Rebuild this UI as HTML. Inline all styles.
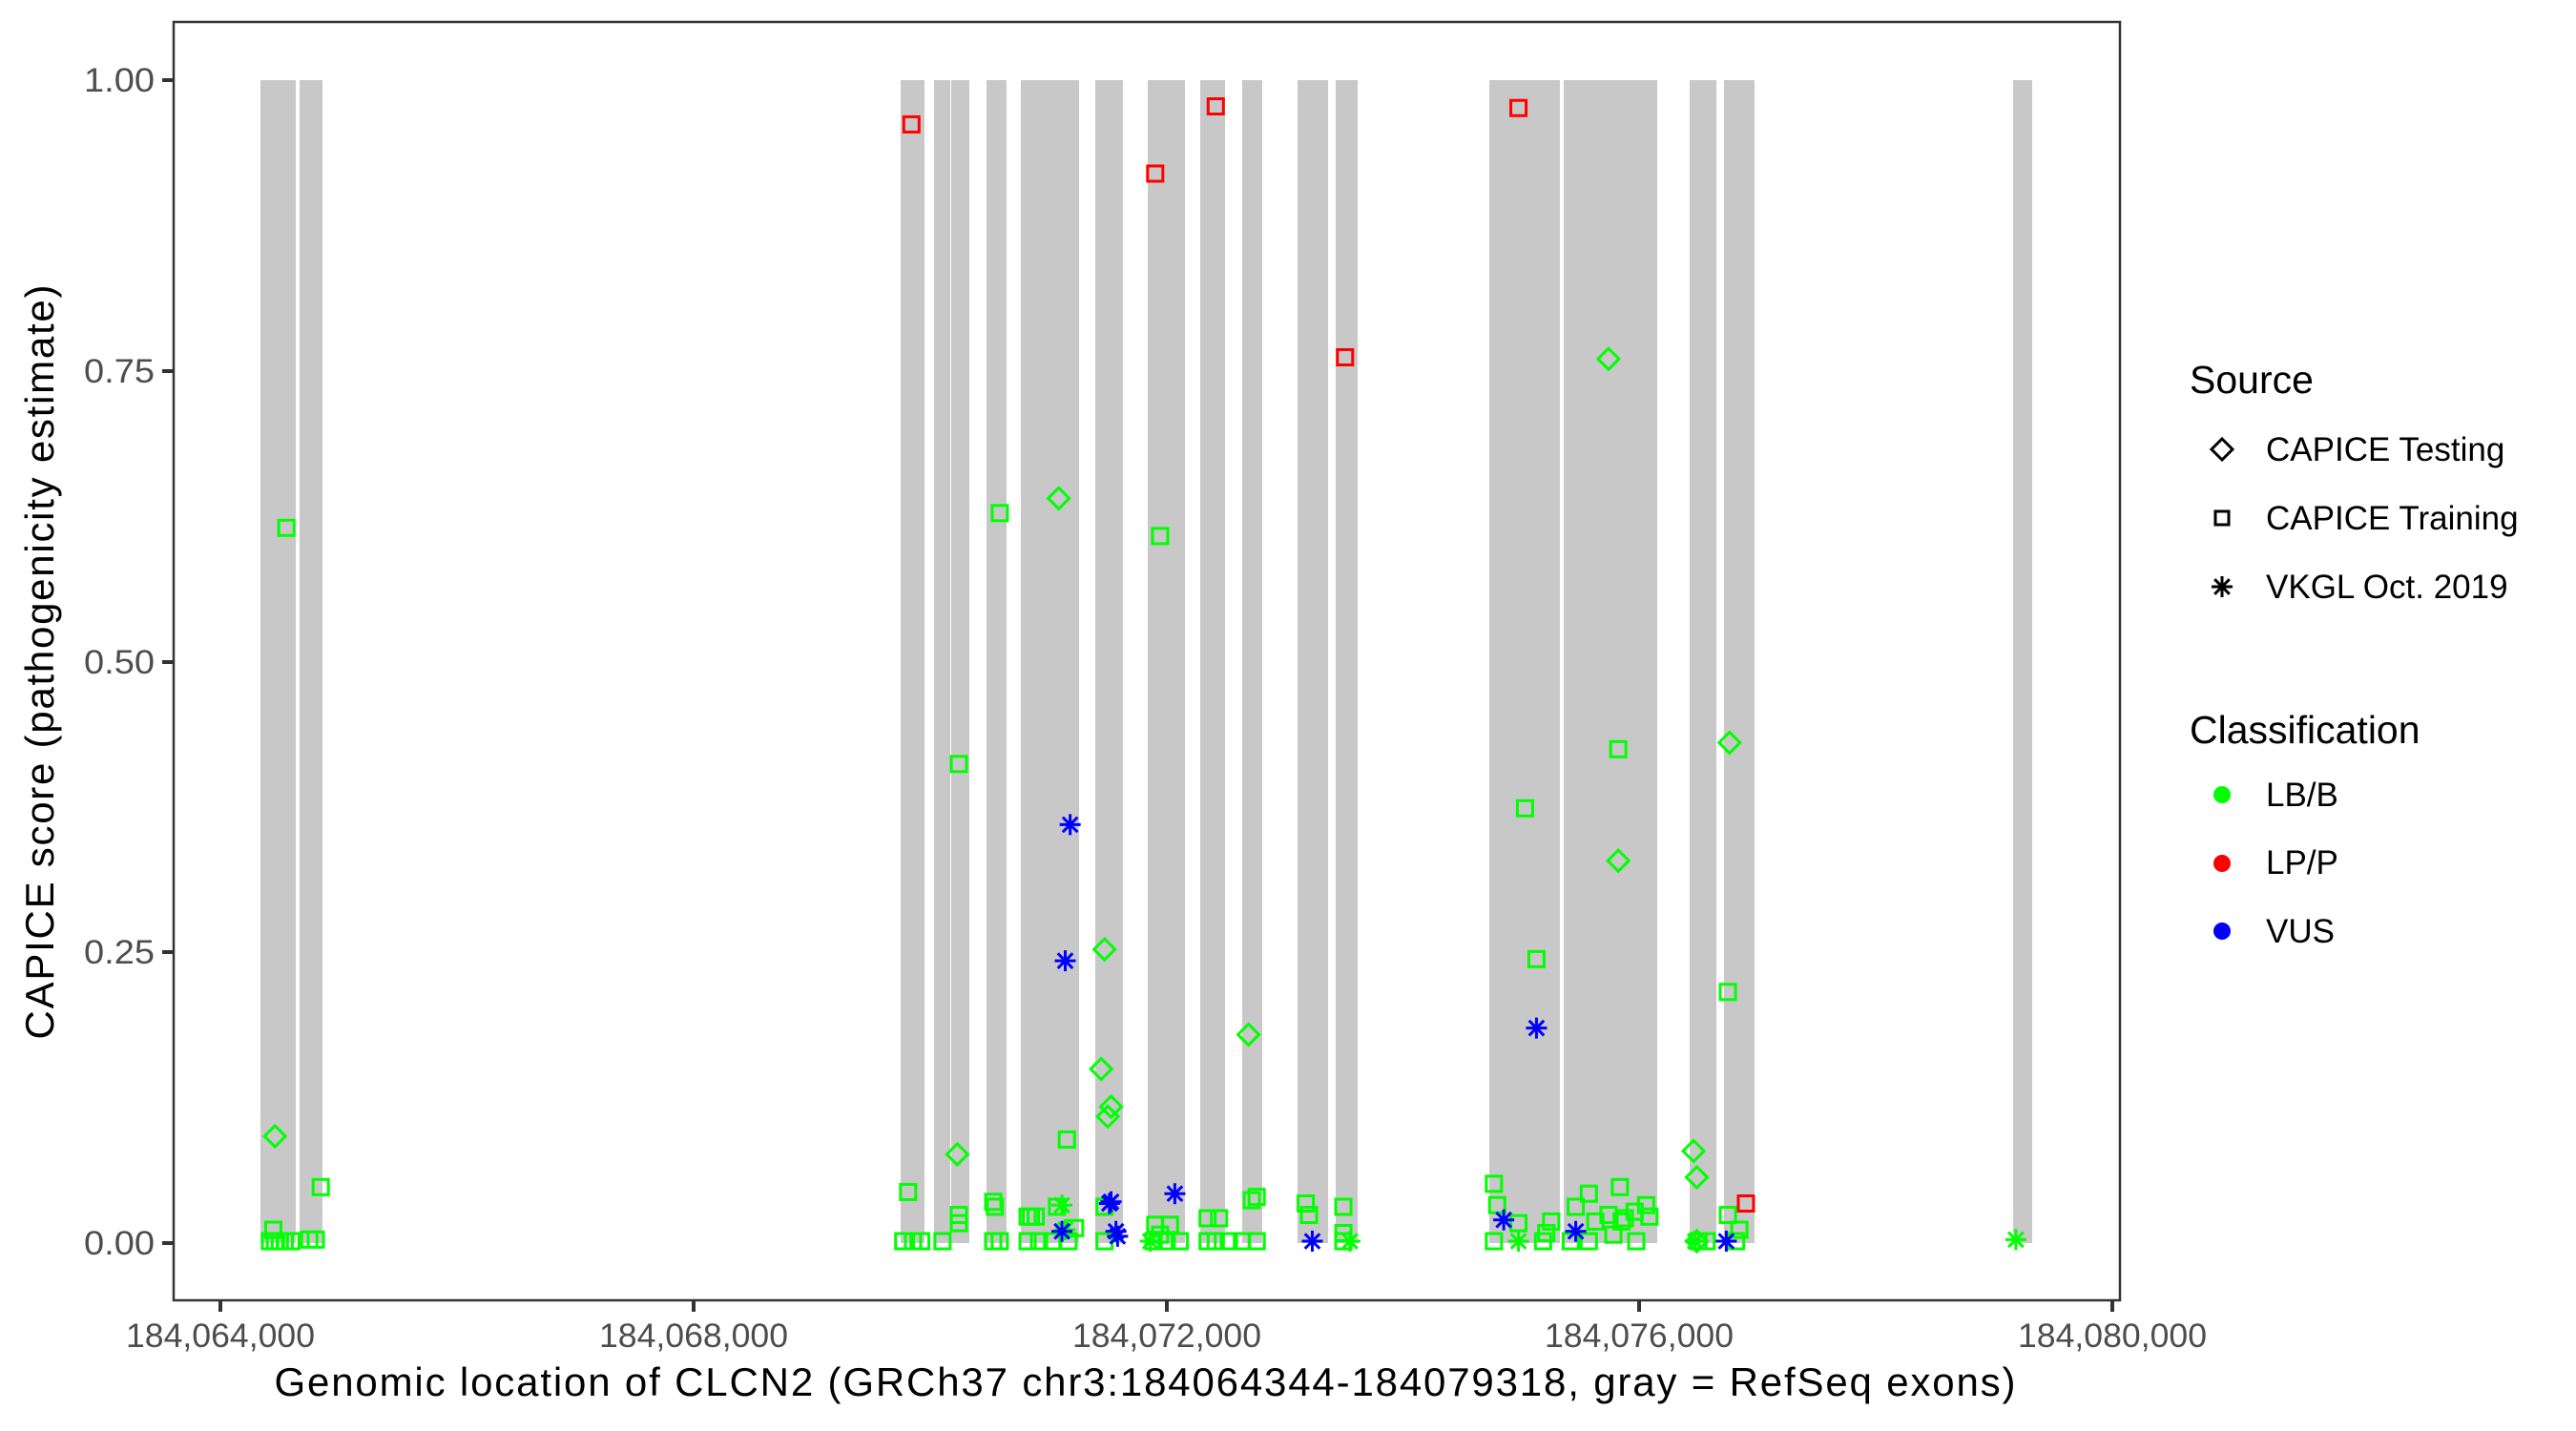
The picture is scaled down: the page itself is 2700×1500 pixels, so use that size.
<!DOCTYPE html>
<html><head><meta charset="utf-8"><style>
html,body{margin:0;padding:0;background:#fff;}
svg{display:block;font-family:"Liberation Sans",Arial,sans-serif;}
</style></head><body>
<svg id="s" width="2700" height="1500" viewBox="0 0 2700 1500" xmlns="http://www.w3.org/2000/svg">
<rect width="2700" height="1500" fill="#fff"/>
<g id="bars" fill="#c8c8c8"></g>
<g id="pts" fill="none" stroke-width="3"></g>
<rect x="182" y="23" width="2040" height="1340" fill="none" stroke="#333" stroke-width="2.5"/>
<g stroke="#333" stroke-width="4">
<line x1="170" y1="84" x2="182" y2="84"/><line x1="170" y1="389" x2="182" y2="389"/>
<line x1="170" y1="694" x2="182" y2="694"/><line x1="170" y1="998" x2="182" y2="998"/>
<line x1="170" y1="1303" x2="182" y2="1303"/>
<line x1="231" y1="1363" x2="231" y2="1375"/><line x1="727" y1="1363" x2="727" y2="1375"/>
<line x1="1223" y1="1363" x2="1223" y2="1375"/><line x1="1718" y1="1363" x2="1718" y2="1375"/>
<line x1="2214" y1="1363" x2="2214" y2="1375"/>
</g>
<g fill="#4d4d4d" font-size="35" text-anchor="end">
<text x="162" y="96" textLength="74" lengthAdjust="spacingAndGlyphs">1.00</text>
<text x="162" y="401" textLength="74" lengthAdjust="spacingAndGlyphs">0.75</text>
<text x="162" y="706" textLength="74" lengthAdjust="spacingAndGlyphs">0.50</text>
<text x="162" y="1010" textLength="74" lengthAdjust="spacingAndGlyphs">0.25</text>
<text x="162" y="1315" textLength="74" lengthAdjust="spacingAndGlyphs">0.00</text>
</g>
<g fill="#4d4d4d" font-size="35" text-anchor="middle">
<text x="231" y="1412" textLength="198" lengthAdjust="spacingAndGlyphs">184,064,000</text>
<text x="727" y="1412" textLength="198" lengthAdjust="spacingAndGlyphs">184,068,000</text>
<text x="1223" y="1412" textLength="198" lengthAdjust="spacingAndGlyphs">184,072,000</text>
<text x="1718" y="1412" textLength="198" lengthAdjust="spacingAndGlyphs">184,076,000</text>
<text x="2214" y="1412" textLength="198" lengthAdjust="spacingAndGlyphs">184,080,000</text>
</g>
<text x="1200" y="1463" font-size="42" text-anchor="middle" textLength="1825">Genomic location of CLCN2 (GRCh37 chr3:184064344-184079318, gray = RefSeq exons)</text>
<text transform="translate(56,694) rotate(-90)" font-size="42" text-anchor="middle" textLength="791">CAPICE score (pathogenicity estimate)</text>
<g font-size="41"><text x="2295" y="412">Source</text><text x="2295" y="779">Classification</text></g>
<g font-size="35">
<text x="2375" y="483">CAPICE Testing</text>
<text x="2375" y="555">CAPICE Training</text>
<text x="2375" y="627">VKGL Oct. 2019</text>
<text x="2375" y="845">LB/B</text>
<text x="2375" y="916">LP/P</text>
<text x="2375" y="988">VUS</text>
</g>
<g id="leg" fill="none" stroke="#000" stroke-width="3"></g>
<circle cx="2329" cy="833" r="9" fill="#00ff00"/>
<circle cx="2329" cy="905" r="9" fill="#ff0000"/>
<circle cx="2329" cy="976" r="9" fill="#0000ff"/>
</svg>
<script>
var NS="http://www.w3.org/2000/svg";
function el(p,t,a){var e=document.createElementNS(NS,t);for(var k in a)e.setAttribute(k,a[k]);p.appendChild(e);return e;}
var bars=[[273,310],[314,338],[944,969],[979,996],[997,1016],[1034,1055],[1070,1131],[1148,1177],[1203,1242],[1258,1284],[1302,1323],[1360,1392],[1400,1423],[1561,1635],[1639,1737],[1771,1799],[1807,1839],[2110,2130]];
var bg=document.getElementById('bars');
bars.forEach(function(b){el(bg,'rect',{x:b[0],y:84,width:b[1]-b[0],height:1219});});
function X(d){return 235+(d-134)*1.715;}
function Y(d){return 84+(d-48)*1.719;}
function shape(g,type,x,y,c){
 if(type=='s'){el(g,'rect',{x:x-8,y:y-8,width:16,height:16,stroke:c});}
 else if(type=='d'){el(g,'path',{d:'M'+x+' '+(y-11)+'L'+(x+11)+' '+y+'L'+x+' '+(y+11)+'L'+(x-11)+' '+y+'Z',stroke:c});}
 else {var r=11,q=7.8;el(g,'path',{d:'M'+(x-r)+' '+y+'H'+(x+r)+'M'+x+' '+(y-r)+'V'+(y+r)+'M'+(x-q)+' '+(y-q)+'L'+(x+q)+' '+(y+q)+'M'+(x-q)+' '+(y+q)+'L'+(x+q)+' '+(y-q),stroke:c});}
}
var G='#00ff00',R='#ff0000',B='#0000ff';
var pts=[];
[[554,75],[740,64],[703,105],[925,65],[819,217],[1064,733]].forEach(function(p){pts.push(['s',p,R]);});
[[172,321],[193,723],[164,749],[162,756],[165,756],[168,756],[171,756],[175,756],[186,755],[190,755],[552,726],[549,756],[555,756],[560,756],[573,756],[583,745],[583,740],[583,465],[608,312],[604,732],[605,735],[604,756],[608,756],[627,741],[630,741],[625,741],[625,756],[632,756],[640,756],[643,735],[649,694],[650,756],[654,748],[706,326],[672,735],[672,756],[702,756],[703,746],[706,752],[710,756],[712,746],[718,756],[735,742],[735,756],[740,756],[742,742],[748,756],[756,756],[765,756],[762,731],[765,729],[795,733],[797,740],[818,735],[818,751],[818,756],[910,721],[912,734],[910,756],[925,745],[929,492],[936,584],[940,756],[945,744],[942,751],[957,756],[960,735],[968,727],[968,756],[972,744],[980,740],[983,752],[986,456],[987,723],[988,744],[990,742],[996,738],[997,756],[1003,734],[1005,741],[1035,756],[1040,756],[1053,604],[1053,740],[1058,756],[1060,749]].forEach(function(p){pts.push(['s',p,G]);});
[[165,692],[582,703],[644,303],[672,578],[670,651],[676,674],[674,680],[760,630],[980,218],[986,524],[1054,452],[1032,701],[1034,717],[1034,756]].forEach(function(p){pts.push(['d',p,G]);});
[[646,734],[648,749],[700,756],[822,756],[925,756],[1229,755],[1033,756]].forEach(function(p){pts.push(['a',p,G]);});
[[651,502],[648,585],[676,732],[679,750],[680,753],[715,727],[646,750],[799,756],[916,743],[936,626],[960,750],[1052,756],[675,733]].forEach(function(p){pts.push(['a',p,B]);});
var pg=document.getElementById('pts');
pts.forEach(function(p){shape(pg,p[0],X(p[1][0]),Y(p[1][1]),p[2]);});
var lg=document.getElementById('leg');
shape(lg,'d',2329,471,'#000');
el(lg,'rect',{x:2322,y:536,width:14,height:14,stroke:'#000'});
shape(lg,'a',2329,615,'#000');
</script>
</body></html>
